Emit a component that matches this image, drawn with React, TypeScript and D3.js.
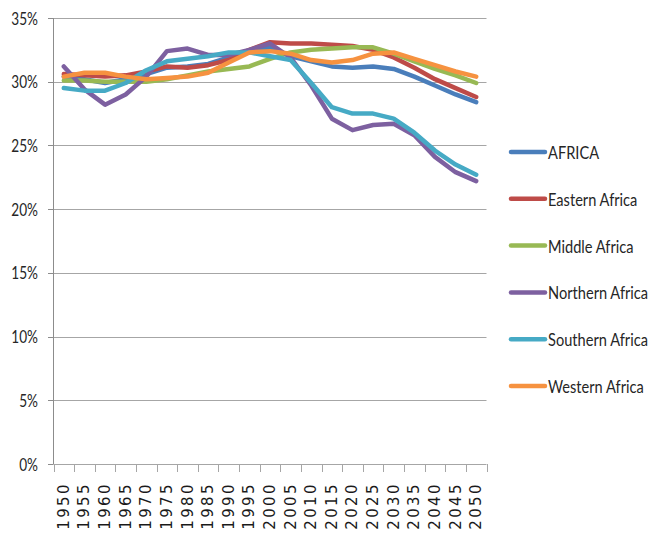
import React from "react";
import * as d3 from "d3";

const years = ["1950","1955","1960","1965","1970","1975","1980","1985","1990","1995","2000","2005","2010","2015","2020","2025","2030","2035","2040","2045","2050"];
const yTicks = [0, 5, 10, 15, 20, 25, 30, 35];

const africa = [30.4, 30.2, 29.9, 30.2, 30.6, 31.1, 31.2, 31.4, 31.9, 32.3, 32.7, 32.0, 31.6, 31.2, 31.1, 31.2, 31.0, 30.4, 29.7, 29.0, 28.4];
const eastern = [30.6, 30.5, 30.4, 30.5, 30.8, 31.2, 31.1, 31.3, 31.7, 32.5, 33.1, 33.0, 33.0, 32.9, 32.8, 32.5, 31.9, 31.1, 30.2, 29.5, 28.8];
const middle = [30.1, 30.1, 30.0, 30.0, 30.0, 30.2, 30.5, 30.8, 31.0, 31.2, 31.8, 32.3, 32.5, 32.6, 32.7, 32.7, 32.2, 31.6, 31.0, 30.5, 29.9];
const northern = [31.2, 29.4, 28.2, 29.0, 30.4, 32.4, 32.6, 32.1, 32.1, 32.5, 33.0, 31.9, 29.7, 27.1, 26.2, 26.6, 26.7, 25.8, 24.1, 22.9, 22.2];
const southern = [29.5, 29.3, 29.3, 29.9, 30.9, 31.6, 31.8, 32.0, 32.3, 32.3, 32.0, 31.7, 29.9, 28.0, 27.5, 27.5, 27.1, 26.0, 24.6, 23.5, 22.7];
const western = [30.4, 30.7, 30.7, 30.4, 30.2, 30.3, 30.4, 30.7, 31.5, 32.3, 32.4, 32.2, 31.7, 31.5, 31.7, 32.2, 32.3, 31.8, 31.3, 30.8, 30.4];

const seriesNames = ["AFRICA", "Eastern Africa", "Middle Africa", "Northern Africa", "Southern Africa", "Western Africa"];
const seriesValues = [africa, eastern, middle, northern, southern, western];
const seriesColors = ["#4A7EBB", "#BE4B48", "#98B954", "#7D60A0", "#46AAC5", "#F69240"];

const W = 654, H = 536;
const left = 53.5, right = 486.5, top = 18, bottom = 464;
const labelFont = "Lato, 'Liberation Sans', sans-serif";
const squeezeAxis = 0.8;
const squeezeLegend = 0.86;

export default function App() {
  const x = d3.scaleBand<string>().domain(years).range([left, right]).padding(0);
  const y = d3.scaleLinear().domain([0, 35]).range([bottom, top]);
  const bw = x.bandwidth();
  const line = d3
    .line<number>()
    .x((_, i) => (x(years[i]) as number) + bw / 2)
    .y((v) => y(v))
    .curve(d3.curveLinear);

  const boundaries = years.map((yr) => x(yr) as number).concat([right]);
  const legendY0 = 152, legendStep = 46.8;

  return (
    <div style={{ position: "absolute", left: 0, top: 0 }}>
      <svg width={W} height={H} style={{ display: "block", background: "#fff" }}>
        {yTicks.filter((t) => t > 0).map((t) => (
          <line key={"g" + t} x1={left} x2={right} y1={Math.round(y(t)) + 0.5} y2={Math.round(y(t)) + 0.5} stroke="#a6a6a6" strokeWidth={1} />
        ))}
        <line x1={left} x2={left} y1={top} y2={bottom} stroke="#8c8c8c" strokeWidth={1} />
        <line x1={left} x2={right} y1={bottom + 0.5} y2={bottom + 0.5} stroke="#a6a6a6" strokeWidth={1} />
        {yTicks.map((t) => (
          <line key={"yt" + t} x1={48} x2={left} y1={Math.round(y(t)) + 0.5} y2={Math.round(y(t)) + 0.5} stroke="#8c8c8c" strokeWidth={1} />
        ))}
        {boundaries.map((bx, i) => (
          <line key={"xt" + i} x1={Math.round(bx) + 0.5} x2={Math.round(bx) + 0.5} y1={bottom} y2={bottom + 8} stroke="#a6a6a6" strokeWidth={1} />
        ))}
        {yTicks.map((t) => (
          <text key={"yl" + t} transform={`translate(38,${y(t)}) scale(${squeezeAxis},1)`} textAnchor="end" dominantBaseline="central" fontFamily={labelFont} fontSize={17} fill="#262626">
            {t + "%"}
          </text>
        ))}
        {years.map((yr) => {
          const cx = (x(yr) as number) + bw / 2;
          return (
            <text
              key={"xl" + yr}
              transform={`translate(${cx},${482}) rotate(-90)`}
              textAnchor="end"
              dominantBaseline="central"
              fontFamily="'DejaVu Sans', sans-serif"
              fontSize={15}
              letterSpacing={2.4}
              fill="#1a1a1a"
            >
              {yr}
            </text>
          );
        })}
        {seriesValues.map((vals, i) => (
          <path key={"s" + i} d={line(vals) || ""} fill="none" stroke={seriesColors[i]} strokeWidth={4.5} strokeLinejoin="round" strokeLinecap="round" />
        ))}
        {seriesNames.map((name, i) => {
          const ly = legendY0 + i * legendStep;
          return (
            <g key={"lg" + i}>
              <line x1={511} x2={545} y1={ly} y2={ly} stroke={seriesColors[i]} strokeWidth={4.5} strokeLinecap="round" />
              <text transform={`translate(548,${ly}) scale(${squeezeLegend},1)`} dominantBaseline="central" fontFamily={labelFont} fontSize={17} fill="#262626">
                {name}
              </text>
            </g>
          );
        })}
      </svg>
    </div>
  );
}
